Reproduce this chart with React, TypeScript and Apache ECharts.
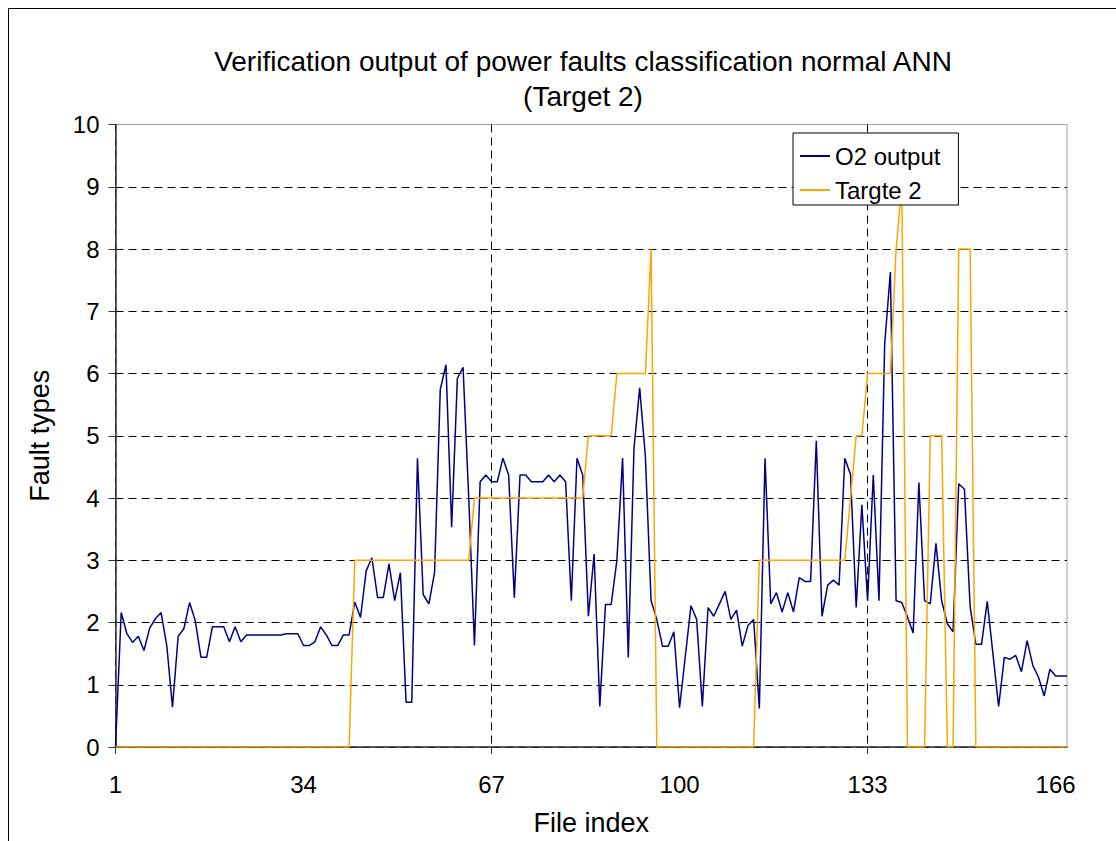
import React, { useEffect, useRef } from "react";
import * as echarts from "echarts";

// Categories: file index 1..168
const fileIndex: string[] = Array.from({ length: 168 }, (_, i) => String(i + 1));

// O2 output (network output)
const o2Output: number[] = [
  0, 2.16, 1.82, 1.68, 1.78, 1.55, 1.91, 2.06, 2.16, 1.63,
  0.64, 1.78, 1.9, 2.32, 2.03, 1.44, 1.44, 1.93, 1.93, 1.93,
  1.69, 1.93, 1.69, 1.8, 1.8, 1.8, 1.8, 1.8, 1.8, 1.8,
  1.82, 1.82, 1.82, 1.63, 1.63, 1.69, 1.93, 1.8, 1.63, 1.63,
  1.8, 1.8, 2.33, 2.08, 2.83, 3.04, 2.4, 2.4, 2.94, 2.35,
  2.8, 0.72, 0.72, 4.64, 2.45, 2.3, 2.8, 5.74, 6.14, 3.53,
  5.92, 6.1, 4.0, 1.63, 4.26, 4.37, 4.26, 4.26, 4.64, 4.37,
  2.4, 4.37, 4.37, 4.26, 4.26, 4.26, 4.37, 4.26, 4.37, 4.26,
  2.35, 4.64, 4.37, 2.1, 3.1, 0.65, 2.29, 2.29, 3.0, 4.64,
  1.44, 4.8, 5.77, 4.67, 2.35, 2.05, 1.62, 1.62, 1.85, 0.63,
  1.45, 2.27, 2.05, 0.65, 2.24, 2.1, 2.3, 2.5, 2.05, 2.2,
  1.62, 1.95, 2.05, 0.62, 4.64, 2.3, 2.48, 2.17, 2.48, 2.17,
  2.72, 2.66, 2.66, 4.92, 2.1, 2.6, 2.68, 2.6, 4.64, 4.38,
  2.24, 3.89, 2.35, 4.37, 2.35, 6.47, 7.63, 2.35, 2.32, 2.09,
  1.83, 4.25, 2.35, 2.3, 3.27, 2.35, 1.98, 1.85, 4.23, 4.14,
  2.25, 1.65, 1.65, 2.34, 1.5, 0.65, 1.44, 1.41, 1.47, 1.21,
  1.71, 1.31, 1.12, 0.82, 1.25, 1.14, 1.14, 1.14,
];

// Target 2 ("Targte 2" in the legend)
const target2: number[] = [
  0, 0, 0, 0, 0, 0, 0, 0, 0, 0,
  0, 0, 0, 0, 0, 0, 0, 0, 0, 0,
  0, 0, 0, 0, 0, 0, 0, 0, 0, 0,
  0, 0, 0, 0, 0, 0, 0, 0, 0, 0,
  0, 0, 3, 3, 3, 3, 3, 3, 3, 3,
  3, 3, 3, 3, 3, 3, 3, 3, 3, 3,
  3, 3, 3, 4, 4, 4, 4, 4, 4, 4,
  4, 4, 4, 4, 4, 4, 4, 4, 4, 4,
  4, 4, 4, 5, 5, 5, 5, 5, 6, 6,
  6, 6, 6, 6, 8, 0, 0, 0, 0, 0,
  0, 0, 0, 0, 0, 0, 0, 0, 0, 0,
  0, 0, 0, 3, 3, 3, 3, 3, 3, 3,
  3, 3, 3, 3, 3, 3, 3, 3, 3, 4,
  5, 5, 6, 6, 6, 6, 6, 8, 9, 0,
  0, 0, 0, 5, 5, 5, 0, 0, 8, 8,
  8, 0, 0, 0, 0, 0, 0, 0, 0, 0,
  0, 0, 0, 0, 0, 0, 0, 0,
];

const seriesNames = ["O2 output", "Targte 2"];
const titleText = "Verification output of power faults classification normal ANN\n(Target 2)";

const FONT = "'Liberation Sans', Arial, sans-serif";

export default function App() {
  const ref = useRef<HTMLDivElement>(null);
  useEffect(() => {
    document.body.style.margin = "0";
    document.body.style.overflow = "hidden";
    const chart = echarts.init(ref.current!, undefined, { renderer: "svg" });
    const gridDash = [8, 5];
    const yGridColors = ["#000", "#000", "#000", "#000", "#000", "#000", "#000", "#000", "#000", "#000", "transparent"];
    chart.setOption({
      animation: false,
      backgroundColor: "#fff",
      textStyle: { fontFamily: FONT, color: "#000" },
      title: {
        text: titleText,
        left: 583,
        top: 44,
        textAlign: "center",
        padding: 0,
        textStyle: { fontFamily: FONT, fontSize: 28, fontWeight: "normal", color: "#000", lineHeight: 35 },
      },
      grid: {
        left: 115.5,
        right: 49,
        top: 124.5,
        bottom: 93.5,
        show: true,
        borderColor: "#a0a0a0",
        borderWidth: 1,
        backgroundColor: "transparent",
      },
      legend: {
        orient: "vertical",
        left: 793,
        top: 133,
        backgroundColor: "#fff",
        borderColor: "#000",
        borderWidth: 1,
        borderRadius: 0,
        padding: [10, 18, 2, 7],
        itemGap: 8,
        itemWidth: 30,
        itemHeight: 2,
        icon: "rect",
        data: seriesNames,
        textStyle: { fontFamily: FONT, fontSize: 24, color: "#000", lineHeight: 26 },
        z: 10,
      },
      xAxis: {
        type: "category",
        data: fileIndex,
        boundaryGap: false,
        name: "File index",
        nameLocation: "middle",
        nameGap: 62,
        nameTextStyle: { fontFamily: FONT, fontSize: 27, color: "#000" },
        axisLine: { lineStyle: { color: "#333", width: 1.5 } },
        axisTick: { show: true, interval: 65, length: 7, lineStyle: { color: "#333" } },
        axisLabel: { interval: 32, fontFamily: FONT, fontSize: 24, color: "#000", margin: 25 },
        splitLine: { show: true, interval: 65, lineStyle: { color: "#000", type: gridDash, width: 1 } },
      },
      yAxis: {
        type: "value",
        min: 0,
        max: 10,
        interval: 1,
        name: "Fault types",
        nameLocation: "middle",
        nameGap: 62,
        nameTextStyle: { fontFamily: FONT, fontSize: 27, color: "#000" },
        axisLine: { show: true, lineStyle: { color: "#333", width: 1.5 } },
        axisTick: { show: true, length: 7, lineStyle: { color: "#333" } },
        axisLabel: { fontFamily: FONT, fontSize: 24, color: "#000", margin: 16 },
        splitLine: { show: true, lineStyle: { color: yGridColors, type: gridDash, width: 1 } },
      },
      series: [
        {
          name: seriesNames[0],
          type: "line",
          data: o2Output,
          symbol: "none",
          lineStyle: { color: "#000080", width: 1.5 },
          itemStyle: { color: "#000080" },
          z: 3,
        },
        {
          name: seriesNames[1],
          type: "line",
          data: target2,
          symbol: "none",
          lineStyle: { color: "#FFA500", width: 1.5 },
          itemStyle: { color: "#FFA500" },
          z: 4,
        },
      ],
      graphic: [
        { type: "line", shape: { x1: 8.5, y1: 8.5, x2: 1116, y2: 8.5 }, style: { stroke: "#000", lineWidth: 1 }, silent: true },
        { type: "line", shape: { x1: 8.5, y1: 8.5, x2: 8.5, y2: 841 }, style: { stroke: "#000", lineWidth: 1 }, silent: true },
      ],
    });
    return () => chart.dispose();
  }, []);
  return <div ref={ref} style={{ width: 1116, height: 841 }} />;
}
